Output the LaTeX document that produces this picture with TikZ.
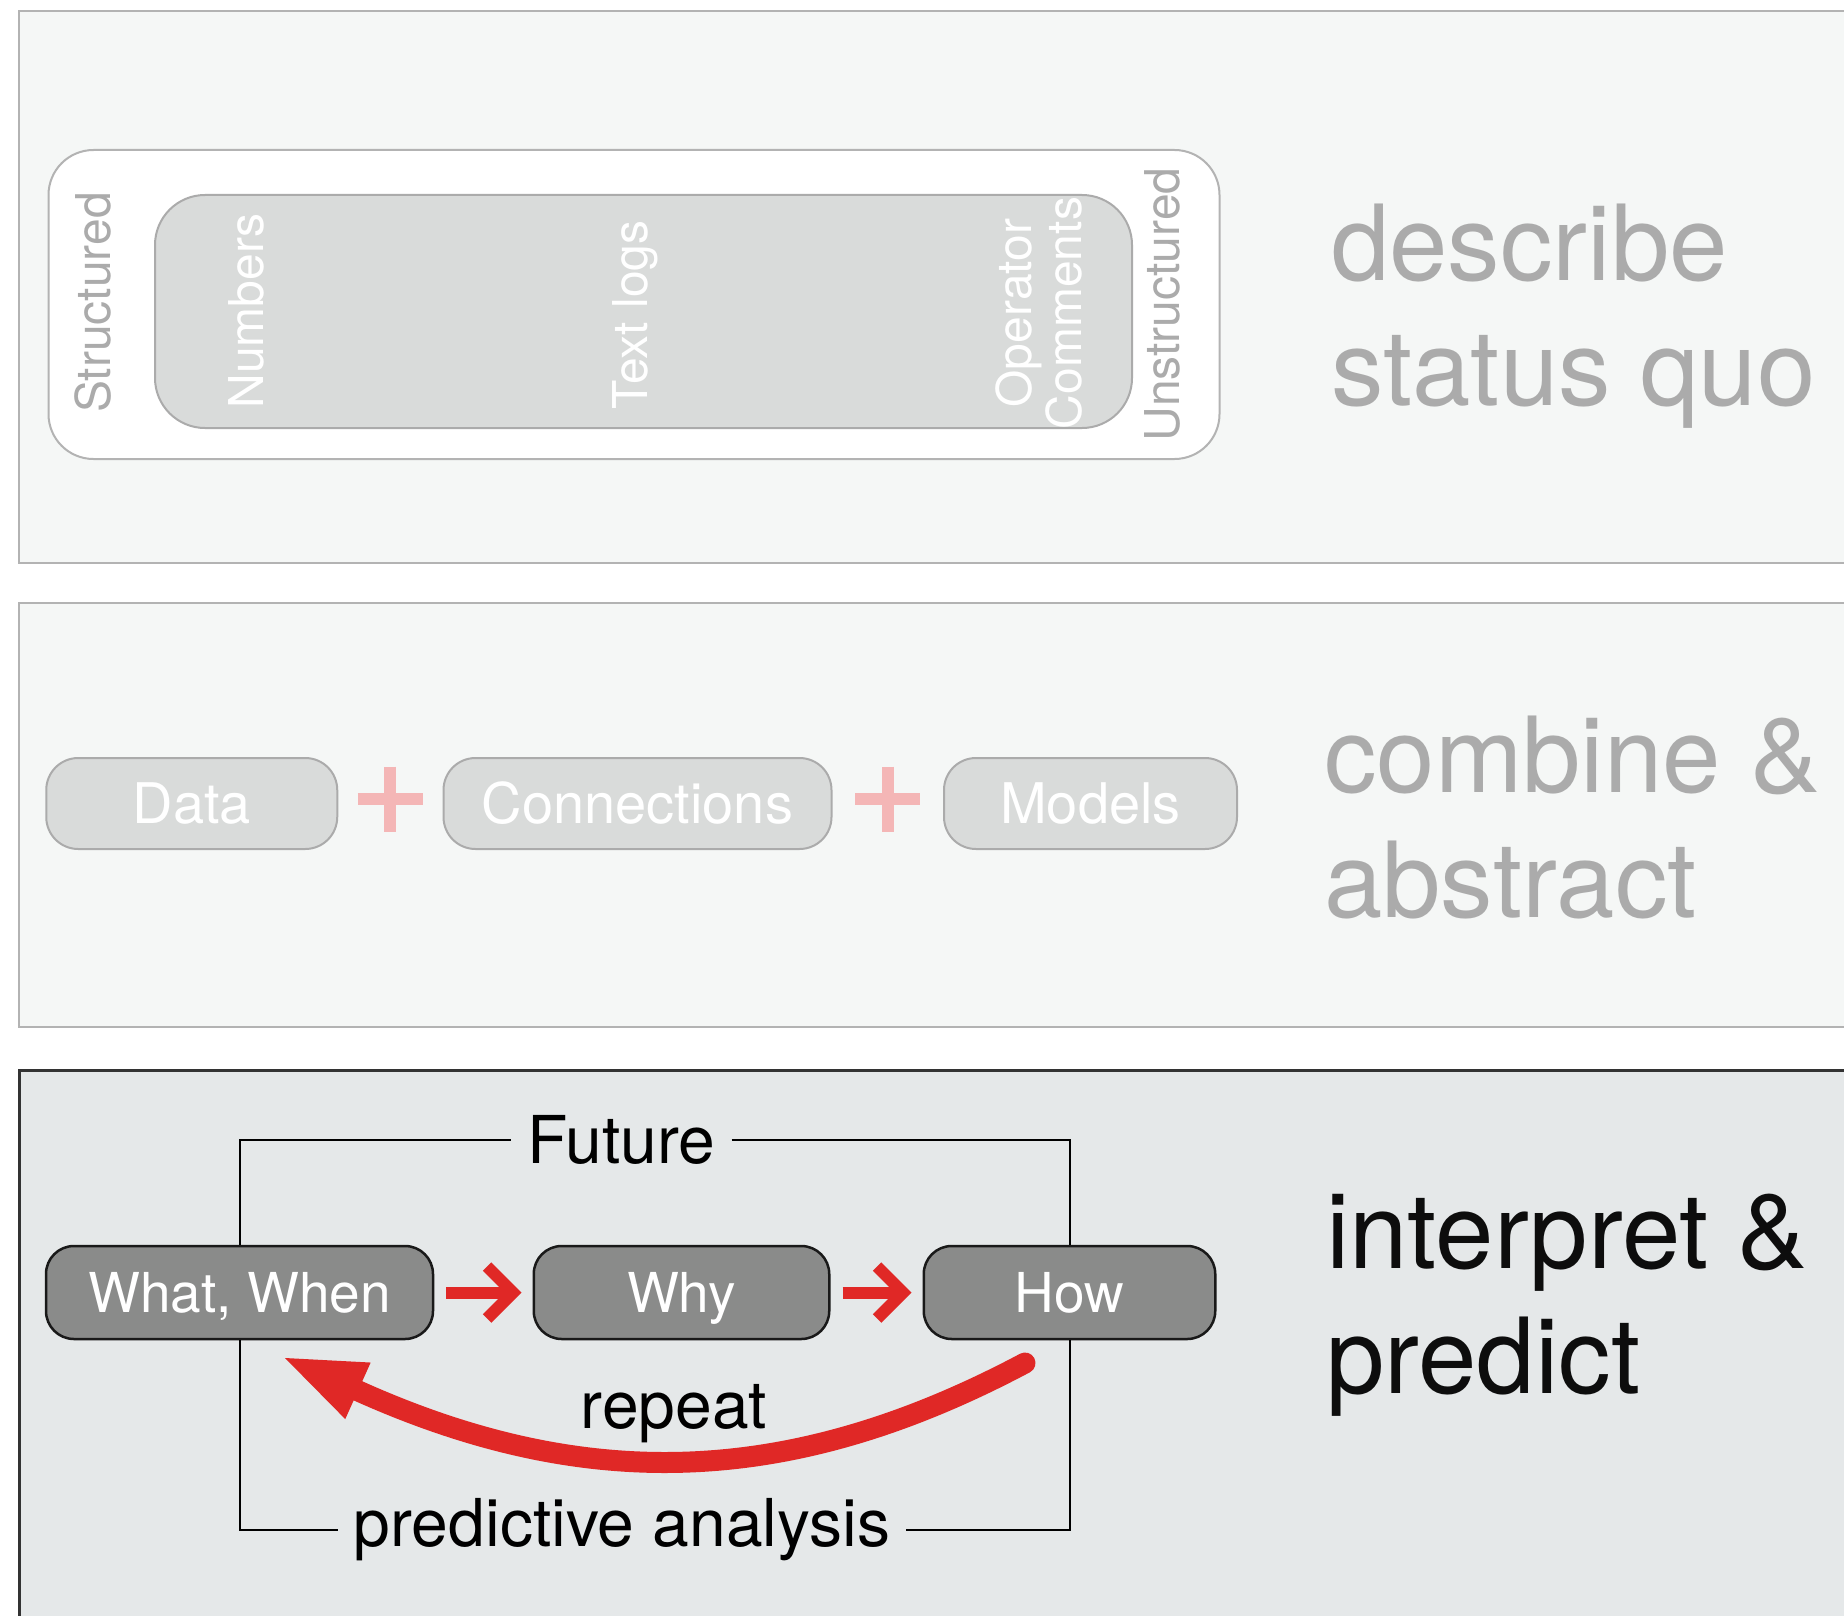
\documentclass[tikz,border=0pt]{standalone}
\usepackage{fontspec}
\setmainfont{TeX Gyre Heros}
\usetikzlibrary{arrows.meta,calc}
\definecolor{panelA}{HTML}{F5F7F6}
\definecolor{panelB}{HTML}{E5E8E9}
\definecolor{panelline}{HTML}{B3B3B3}
\definecolor{lgray}{HTML}{ABABAB}
\definecolor{boxgray}{HTML}{D9DBDA}
\definecolor{darkbox}{HTML}{8A8B8A}
\definecolor{redc}{HTML}{E02826}
\definecolor{pinkc}{HTML}{F4B6B6}
\newcommand{\myfs}[2]{\fontsize{#1}{#2}\selectfont}
\begin{document}
\begin{tikzpicture}[x=1pt,y=-1pt,
  bigtxt/.style={anchor=base west, inner sep=0pt, align=left, font=\myfs{105}{125}},
  vlab/.style={rotate=90, inner sep=0pt, font=\myfs{48}{50}},
  pbox/.style={draw=lgray, line width=2pt, fill=boxgray, rounded corners=32pt, minimum height=91pt, inner sep=0pt, text=white, font=\myfs{56}{60}, text height=40pt, text depth=0pt},
  dbox/.style={draw=black!90, line width=2.5pt, fill=darkbox, rounded corners=28pt, minimum height=93pt, inner sep=0pt, text=white, font=\myfs{55}{60}, text height=40pt, text depth=0pt},
  redarrow/.style={draw=redc, line width=12pt, shorten <=12pt, shorten >=11pt, -{Straight Barb[sharp, length=26pt, width=52pt]}},
  plus/.style={draw=pinkc, line width=12pt},
  bracket/.style={draw=black, line width=2pt},
  brlabel/.style={inner xsep=16pt, inner ysep=0pt, font=\myfs{66}{70}}
]
\path[use as bounding box] (0,0) rectangle (1844,1616);
\clip (0,0) rectangle (1844,1616);
\fill[white] (0,0) rectangle (1844,1616);
% panels
\draw[panelline, line width=2pt, fill=panelA] (19,11) rectangle (1900,563);
\draw[panelline, line width=2pt, fill=panelA] (19,603) rectangle (1900,1027);
\draw[black!80, line width=3pt, fill=panelB] (19,1070) rectangle (1900,1700);

% panel 1
\node[draw=panelline, line width=2pt, fill=white, rounded corners=45pt, minimum width=1171pt, minimum height=309pt, inner sep=0pt] (outer) at (634,304.5) {};
\node[draw=lgray, line width=2pt, fill=boxgray, rounded corners=50pt, minimum width=977pt, minimum height=233pt, inner sep=0pt] (inner) at (643.5,311.5) {};
\node[vlab, text=lgray] (struct) at (93,302.5) {Structured};
\node[vlab, text=white] (num) at (246.5,311) {Numbers};
\node[vlab, text=white] (tlog) at (635,315) {Text logs};
\node[vlab, text=white, align=center] (opc) at (1039,313) {Operator\\Comments};
\node[vlab, text=lgray] (unstruct) at (1162.5,304.5) {Unstructured};
\node[bigtxt, text=lgray] (desc) at (1331,405) {describe\\status quo};

% panel 2
\node[pbox, minimum width=291pt] (data) at (191.75,803.5) {Data};
\node[pbox, minimum width=388pt] (conn) at (637.5,803.5) {Connections};
\node[pbox, minimum width=293pt] (models) at (1090.5,803.5) {Models};
\draw[plus] ($(data.east)!.5!(conn.west)+(0,-4.5)$) +(0,-32.5) -- +(0,32.5) +(-32.5,0) -- +(32.5,0);
\draw[plus] ($(conn.east)!.5!(models.west)+(0,-4.5)$) +(0,-32.5) -- +(0,32.5) +(-32.5,0) -- +(32.5,0);
\node[bigtxt, text=lgray] (comb) at (1324,917) {combine \&\\abstract};

% panel 3
\node[dbox, minimum width=387pt] (ww) at (239.5,1292.5) {What, When};
\node[dbox, minimum width=295.5pt] (why) at (681.5,1292.5) {Why};
\node[dbox, minimum width=291.5pt] (how) at (1069.5,1292.5) {How};
\draw[redarrow] (ww.east) -- (why.west);
\draw[redarrow] (why.east) -- (how.west);
\node[brlabel] (fut) at (621.5,1139.5) {Future};
\node[brlabel] (pa) at (622,1530) {predictive analysis};
\draw[bracket] (ww.north) |- (fut.west);
\draw[bracket] (fut.east) -| (how.north);
\draw[bracket] (ww.south) |- (pa.west);
\draw[bracket] (pa.east) -| (how.south);
\coordinate (rs) at (1025,1363);
\coordinate (re) at (285,1358);
\draw[redc, line width=21pt, line cap=round, -{Triangle[length=80pt, width=62pt, line width=0pt]}] (rs) .. controls (788,1489) and (583,1492) .. (re);
\node[anchor=base, inner sep=0pt, font=\myfs{66}{70}] (rep) at (674,1428) {repeat};
\node[bigtxt, text=black!95] (interp) at (1326,1393) {interpret \&\\predict};
\end{tikzpicture}
\end{document}
